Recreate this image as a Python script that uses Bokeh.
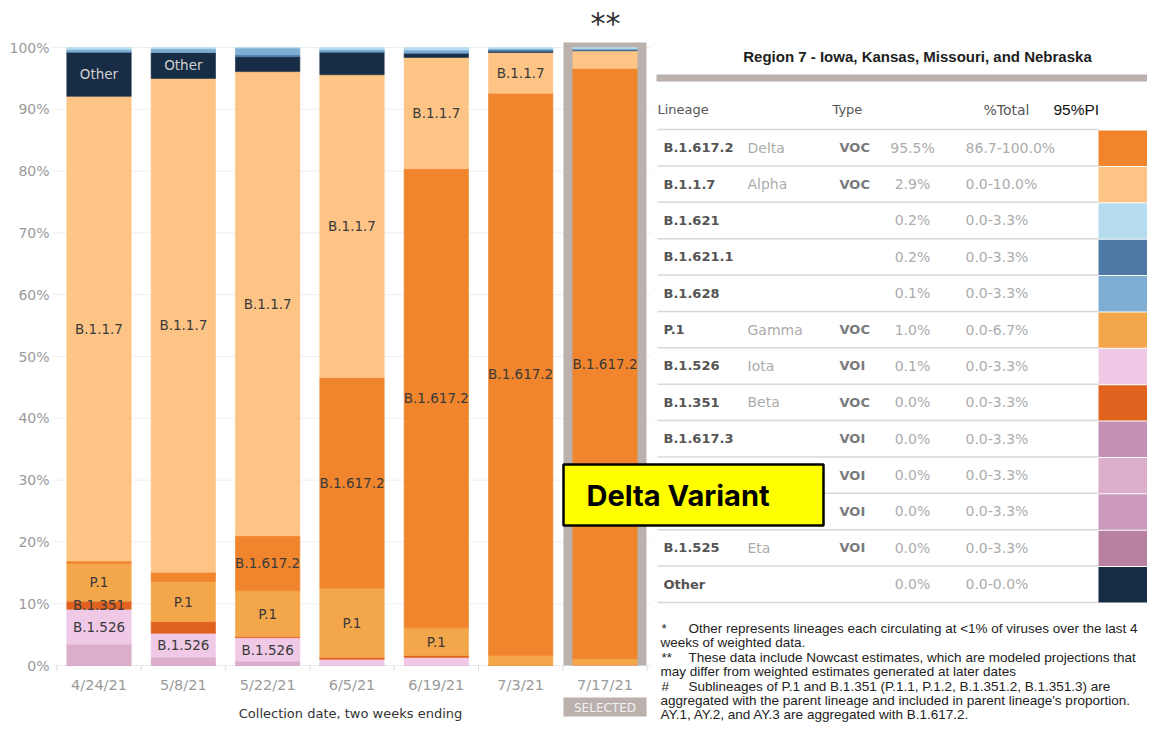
import numpy as np
from bokeh.plotting import figure
from bokeh.models import Range1d, FixedTicker, ColumnDataSource
from bokeh.core.properties import value
from bokeh.embed import file_html
from bokeh.resources import INLINE

# ---------------- data ----------------
dates = ["4/24/21", "5/8/21", "5/22/21", "6/5/21", "6/19/21", "7/3/21", "7/17/21"]
selected_date = "7/17/21"

# share of sequences (%) per two-week period, stacked bottom -> top
b1525 = [0.0, 0.0, 0.0, 0.0, 0.0, 0.0, 0.0]
b1617_1 = [0.0, 0.0, 0.0, 0.0, 0.0, 0.0, 0.0]
b1429 = [3.4, 1.3, 0.6, 0.0, 0.0, 0.0, 0.0]
b1617_3 = [0.0, 0.0, 0.0, 0.0, 0.0, 0.0, 0.0]
b1526 = [5.7, 3.9, 3.9, 1.0, 1.3, 0.0, 0.1]
b1351 = [1.3, 1.9, 0.2, 0.3, 0.3, 0.0, 0.0]
p1 = [6.1, 6.5, 7.4, 11.2, 4.5, 1.6, 1.0]
b1617_2 = [0.4, 1.5, 8.9, 34.1, 74.3, 91.0, 95.5]
b117 = [75.2, 79.9, 75.1, 49.0, 18.0, 6.6, 2.9]
other = [7.1, 4.2, 2.4, 3.6, 0.6, 0.2, 0.0]
b1621_1 = [0.1, 0.0, 0.3, 0.2, 0.2, 0.2, 0.2]
b1628 = [0.4, 0.6, 1.1, 0.3, 0.4, 0.2, 0.1]
b1621 = [0.3, 0.2, 0.1, 0.3, 0.4, 0.2, 0.2]

series_names = ["B.1.525", "B.1.617.1", "B.1.429", "B.1.617.3", "B.1.526", "B.1.351", "P.1",
                "B.1.617.2", "B.1.1.7", "Other", "B.1.621.1", "B.1.628", "B.1.621"]
series_values = [b1525, b1617_1, b1429, b1617_3, b1526, b1351, p1,
                 b1617_2, b117, other, b1621_1, b1628, b1621]
series_colors = ["#b8819f", "#cc9abd", "#dcaecc", "#c490b4", "#efc9e6", "#e0621f", "#f3a64a",
                 "#f0852d", "#fdc486", "#172c45", "#4e79a7", "#7eaed3", "#b6dcef"]

bar_labels = [("4/24/21", "Other"), ("4/24/21", "B.1.1.7"), ("4/24/21", "P.1"),
              ("4/24/21", "B.1.351"), ("4/24/21", "B.1.526"),
              ("5/8/21", "Other"), ("5/8/21", "B.1.1.7"), ("5/8/21", "P.1"), ("5/8/21", "B.1.526"),
              ("5/22/21", "B.1.1.7"), ("5/22/21", "B.1.617.2"), ("5/22/21", "P.1"), ("5/22/21", "B.1.526"),
              ("6/5/21", "B.1.1.7"), ("6/5/21", "B.1.617.2"), ("6/5/21", "P.1"),
              ("6/19/21", "B.1.1.7"), ("6/19/21", "B.1.617.2"), ("6/19/21", "P.1"),
              ("7/3/21", "B.1.1.7"), ("7/3/21", "B.1.617.2"),
              ("7/17/21", "B.1.617.2")]

y_ticks = [0, 10, 20, 30, 40, 50, 60, 70, 80, 90, 100]
x_title = "Collection date, two weeks ending"

tbl_title = "Region 7 - Iowa, Kansas, Missouri, and Nebraska"
tbl_lineage = ["B.1.617.2", "B.1.1.7", "B.1.621", "B.1.621.1", "B.1.628", "P.1", "B.1.526",
               "B.1.351", "B.1.617.3", "", "", "B.1.525", "Other"]
tbl_who = ["Delta", "Alpha", "", "", "", "Gamma", "Iota", "Beta", "", "", "", "Eta", ""]
tbl_type = ["VOC", "VOC", "", "", "", "VOC", "VOI", "VOC", "VOI", "VOI", "VOI", "VOI", ""]
tbl_pct = ["95.5%", "2.9%", "0.2%", "0.2%", "0.1%", "1.0%", "0.1%", "0.0%", "0.0%", "0.0%",
           "0.0%", "0.0%", "0.0%"]
tbl_pi = ["86.7-100.0%", "0.0-10.0%", "0.0-3.3%", "0.0-3.3%", "0.0-3.3%", "0.0-6.7%", "0.0-3.3%",
          "0.0-3.3%", "0.0-3.3%", "0.0-3.3%", "0.0-3.3%", "0.0-3.3%", "0.0-0.0%"]
tbl_color = ["#f0852d", "#fdc486", "#b6dcef", "#4e79a7", "#7eaed3", "#f3a64a", "#efc9e6",
             "#e0621f", "#c490b4", "#dcaecc", "#cc9abd", "#b8819f", "#172c45"]

footnotes = [("*", "Other represents lineages each circulating at <1% of viruses over the last 4"),
             ("", "weeks of weighted data."),
             ("**", "These data include Nowcast estimates, which are modeled projections that"),
             ("", "may differ from weighted estimates generated at later dates"),
             ("#", "Sublineages of P.1 and B.1.351 (P.1.1,  P.1.2, B.1.351.2, B.1.351.3) are"),
             ("", "aggregated with the parent lineage and included in parent lineage's proportion."),
             ("", "AY.1, AY.2, and AY.3 are aggregated with B.1.617.2.")]

# ---------------- layout (figure pixels) ----------------
W, H = 1147, 726
FR_L = 52
BAR0, STEP = 98.5, 84.33
Y0, Y100 = 665, 47
PPU = (Y0 - Y100) / 100.0

x_range = Range1d(-(BAR0 - FR_L) / STEP, (W - BAR0) / STEP)
y_range = Range1d(-(H - Y0) / PPU, 100 + Y100 / PPU)

p = figure(width=W, height=H, output_backend="svg", toolbar_location=None,
           x_range=x_range, y_range=y_range,
           min_border_left=FR_L, min_border_right=0, min_border_top=0, min_border_bottom=0)
p.extra_x_ranges = {"px": Range1d(FR_L, W)}
p.extra_y_ranges = {"py": Range1d(H, 0)}
p.outline_line_color = None
p.grid.visible = False
p.xaxis.visible = False
p.background_fill_color = "white"
p.border_fill_color = "white"

TF = "DejaVu Sans"
PXR = dict(x_range_name="px", y_range_name="py")

# y axis
p.yaxis.ticker = FixedTicker(ticks=y_ticks)
p.yaxis.major_label_overrides = {t: f"{t}%" for t in y_ticks}
p.yaxis.axis_line_color = None
p.yaxis.major_tick_line_color = None
p.yaxis.minor_tick_line_color = None
p.yaxis.major_tick_out = 0
p.yaxis.major_tick_in = 0
p.yaxis.minor_tick_out = 0
p.yaxis.major_label_text_font = TF
p.yaxis.major_label_text_font_size = "14px"
p.yaxis.major_label_text_color = "#9a9a9a"
p.yaxis.major_label_standoff = 3

# gridlines & baseline
xs = list(range(len(dates)))
grid_right = (650 - BAR0) / STEP
gl = [t for t in y_ticks if t > 0]
p.segment(x0=x_range.start, x1=grid_right, y0=gl, y1=gl, line_color="#efefef", line_width=1)
p.segment(x0=(55 - BAR0) / STEP, x1=grid_right, y0=0, y1=0, line_color="#c4c4c4",
          line_width=1, line_dash="1 2")
sep = [i - 0.5 for i in range(len(dates) + 1)]
p.segment(x0=sep, x1=sep, y0=0, y1=-0.9, line_color="#dddddd", line_width=1)

# x tick labels (categories placed through the x scale)
p.text(x=xs, y=684, text=dates, text_align="center", text_baseline="middle",
       text_font=value(TF), text_font_size="14.5px", text_color="#9a9a9a", y_range_name="py")
p.text(x=350, y=713, text=[x_title], text_align="center", text_baseline="middle",
       text_font=value(TF), text_font_size="13px", text_color="#333333", **PXR)

# selected highlight
si = dates.index(selected_date)
p.vbar(x=[si], width=83 / STEP, bottom=0, top=100 + 5 / PPU, fill_color="#bab0ac",
       line_color=None)
p.quad(left=563, right=646, top=697, bottom=716, fill_color="#bab0ac", line_color=None, **PXR)
p.text(x=604.5, y=707, text=["SELECTED"], text_align="center", text_baseline="middle",
       text_font=value(TF), text_font_size="12px", text_color="#f2f2f2", **PXR)
p.text(x=605, y=23, text=["**"], text_align="center", text_baseline="alphabetic",
       text_font=value(TF), text_font_size="30px", text_color="#333333", **PXR)

# stacked bars
data = {"x": xs}
keys = []
for k, vals in enumerate(series_values):
    data[f"s{k}"] = vals
    keys.append(f"s{k}")
src = ColumnDataSource(data)
p.vbar_stack(keys, x="x", width=64.4 / STEP, fill_color=series_colors,
             line_color=series_colors, line_width=0.6, source=src)

# bar labels
cum = np.cumsum(np.array(series_values), axis=0)
lx, ly, lt, lc = [], [], [], []
for d, name in bar_labels:
    i = dates.index(d)
    k = series_names.index(name)
    top = cum[k, i]
    lx.append(i)
    ly.append(top - series_values[k][i] / 2.0)
    lt.append(name)
    lc.append("#d0d0d0" if name == "Other" else "#3a3a3a")
p.text(x=lx, y=ly, text=lt, text_color=lc, text_align="center", text_baseline="middle",
       text_font=value(TF), text_font_size="13.5px")

# ---------------- table ----------------
n = len(tbl_lineage)
ROW0, ROWH = 129.0, 36.38
tops = [ROW0 + ROWH * i for i in range(n)]
yc = [t + ROWH / 2 for t in tops]

p.quad(left=656, right=1163, top=74, bottom=81, fill_color="#bab0ac", line_color=None, **PXR)
p.text(x=917, y=56, text=[tbl_title], text_align="center", text_baseline="middle",
       text_font=value("Liberation Sans"), text_font_style="bold", text_font_size="15px",
       text_color="#1e1e1e", **PXR)

hdr = dict(text_font=value(TF), text_font_size="13px", text_color="#555555",
           text_baseline="middle")
p.text(x=657, y=109, text=["Lineage"], text_align="left", **hdr, **PXR)
p.text(x=832, y=109, text=["Type"], text_align="left", **hdr, **PXR)
p.text(x=1029, y=109, text=["%Total"], text_align="right", text_font=value(TF),
       text_font_size="14px", text_color="#555555", text_baseline="middle", **PXR)
p.text(x=1053, y=109, text=["95%PI"], text_align="left", text_baseline="middle",
       text_font=value("Liberation Sans"), text_font_size="15.5px", text_color="#111111", **PXR)

lines_y = [ROW0 + ROWH * i for i in range(n + 1)]
p.segment(x0=657, x1=1098, y0=lines_y, y1=lines_y, line_color="#d8d8d8", line_width=1.5, **PXR)
p.quad(left=1098, right=1163, top=[t + 1 for t in tops], bottom=[t + ROWH for t in tops],
       fill_color=tbl_color, line_color=None, **PXR)

p.text(x=663, y=yc, text=tbl_lineage, text_align="left", text_baseline="middle",
       text_font=value(TF), text_font_style="bold", text_font_size="13px",
       text_color="#555555", **PXR)
p.text(x=747, y=yc, text=tbl_who, text_align="left", text_baseline="middle",
       text_font=value(TF), text_font_size="14px", text_color="#acacac", **PXR)
p.text(x=839, y=yc, text=tbl_type, text_align="left", text_baseline="middle",
       text_font=value(TF), text_font_style="bold", text_font_size="13px",
       text_color="#7a7a7a", **PXR)
p.text(x=912, y=yc, text=tbl_pct, text_align="center", text_baseline="middle",
       text_font=value(TF), text_font_size="14px", text_color="#acacac", **PXR)
p.text(x=965, y=yc, text=tbl_pi, text_align="left", text_baseline="middle",
       text_font=value(TF), text_font_size="14px", text_color="#acacac", **PXR)

# Delta Variant call-out
p.quad(left=563, right=823, top=464, bottom=525, fill_color="#ffff00", line_color="#000000",
       line_width=2.5, **PXR)
p.text(x=586, y=495, text=["Delta Variant"], text_align="left", text_baseline="middle",
       text_font=value("Inter"), text_font_style="bold", text_font_size="29px",
       text_color="#000000", **PXR)

# footnotes
FN0, FNH = 628, 14.4
fx, fy, ft = [], [], []
for j, (mark, txt) in enumerate(footnotes):
    yy = FN0 + FNH * j
    if mark:
        fx += [661, 688]
        fy += [yy, yy]
        ft += [mark, txt]
    else:
        fx.append(660)
        fy.append(yy)
        ft.append(txt)
p.text(x=fx, y=fy, text=ft, text_align="left", text_baseline="middle",
       text_font=value("Liberation Sans"), text_font_size="13.5px", text_color="#222222", **PXR)

open("out.html", "w").write(file_html(p, INLINE))
